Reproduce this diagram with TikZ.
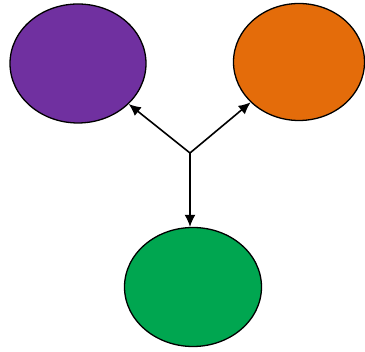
\documentclass[tikz,border=0pt]{standalone}
\usepackage{xcolor}
\usepackage{tikz}
\usetikzlibrary{arrows.meta,shapes.geometric,positioning,calc}

\definecolor{blobpurple}{HTML}{7030A0}
\definecolor{bloborange}{HTML}{E46C0A}
\definecolor{blobgreen}{HTML}{00A650}

\tikzset{
	blob/.style={draw=black, ellipse, line width=1.3pt, inner sep=0pt},
	link/.style={line width=1.6pt, -{Latex[length=12pt,width=11pt]}}
}

\begin{document}
\begin{tikzpicture}[x=1pt,y=1pt]
		\useasboundingbox (0,0) rectangle (365,352);
		\node[blob, fill=blobpurple, minimum width=136pt, minimum height=119pt] (purple) at (78,288.5) {};
		\node[blob, fill=bloborange, minimum width=131pt, minimum height=117pt] (orange) at (299,290) {};
		\node[blob, fill=blobgreen, minimum width=137pt, minimum height=119pt] (green) at (193,65) {};

		\coordinate (fork) at (190,199);
		\draw[link] (fork) -- (purple);
		\draw[link] (fork) -- (orange);
		\draw[link] (fork) -- (fork |- green.north);
	\end{tikzpicture}
\end{document}
